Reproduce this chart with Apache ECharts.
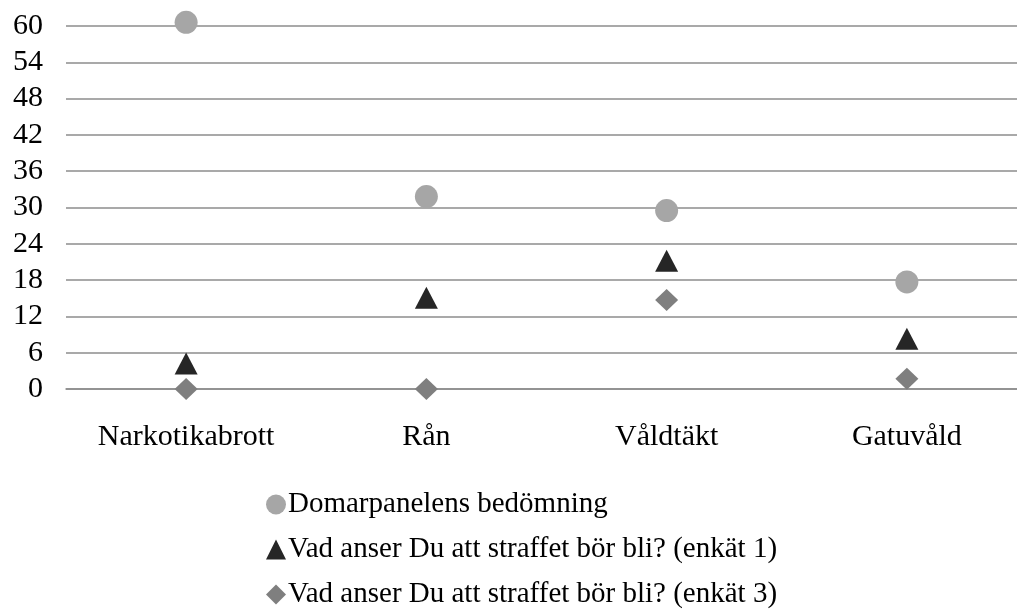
<!DOCTYPE html>
<html>
<head>
<meta charset="utf-8">
<script src="https://cdn.jsdelivr.net/npm/echarts@6/dist/echarts.min.js"></script>
<style>
html,body{margin:0;padding:0;background:#fff;}
#chart{width:1017px;height:615px;}
</style>
</head>
<body>
<div id="chart"></div>
<script>
const categories = ['Narkotikabrott', 'Rån', 'Våldtäkt', 'Gatuvåld'];
const seriesNames = [
  'Domarpanelens bedömning',
  'Vad anser Du att straffet bör bli? (enkät 1)',
  'Vad anser Du att straffet bör bli? (enkät 3)'
];
const domarpanel = [60.6, 31.8, 29.5, 17.7];
const enkat1 = [4.2, 15.1, 21.2, 8.3];
const enkat3 = [0, 0, 14.7, 1.7];

const font = '"Liberation Serif", "Times New Roman", serif';
const chart = echarts.init(document.getElementById('chart'), null, {renderer: 'canvas'});
chart.setOption({
  animation: false,
  backgroundColor: '#fff',
  textStyle: {fontFamily: font},
  grid: {left: 66, width: 961, top: 26, height: 363, outerBoundsMode: 'none', containLabel: false},
  xAxis: {
    type: 'category',
    data: categories,
    boundaryGap: true,
    axisLine: {show: true, lineStyle: {color: '#8c8c8c', width: 1.5}},
    axisTick: {show: false},
    axisLabel: {color: '#000', fontSize: 30, fontFamily: font, margin: 33}
  },
  yAxis: {
    type: 'value',
    min: 0, max: 60, interval: 6,
    axisLine: {show: false},
    axisTick: {show: false},
    axisLabel: {color: '#000', fontSize: 30, fontFamily: font, margin: 23},
    splitLine: {show: true, lineStyle: {color: '#8c8c8c', width: 1.5}}
  },
  legend: {
    orient: 'vertical',
    left: 261,
    top: 485,
    itemGap: 16,
    itemWidth: 20,
    itemHeight: 20,
    align: 'left',
    textStyle: {color: '#000', fontSize: 29, fontFamily: font, lineHeight: 29, padding: [0,0,0,-3]},
    data: seriesNames
  },
  series: [
    {name: seriesNames[0], type: 'scatter', data: domarpanel, clip: false,
     symbol: 'circle', symbolSize: 23, itemStyle: {color: '#a6a6a6', opacity: 1}},
    {name: seriesNames[1], type: 'scatter', data: enkat1, clip: false,
     symbol: 'triangle', symbolSize: [23, 22], itemStyle: {color: '#262626', opacity: 1}},
    {name: seriesNames[2], type: 'scatter', data: enkat3, clip: false,
     symbol: 'diamond', symbolSize: [23, 22], itemStyle: {color: '#7f7f7f', opacity: 1}}
  ]
});
</script>
</body>
</html>
